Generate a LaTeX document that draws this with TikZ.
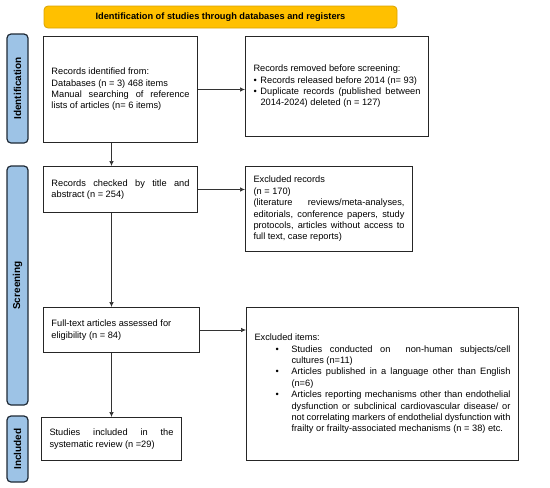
\documentclass[tikz,border=0pt]{standalone}
\usepackage{fontspec}
\setmainfont{Liberation Sans}
\usetikzlibrary{positioning, arrows.meta}
\definecolor{bannerfill}{HTML}{FFC000}
\definecolor{bannerline}{HTML}{D9A300}
\definecolor{phasefill}{HTML}{9DC3E6}
\definecolor{phaseline}{HTML}{1F2A36}
\newcommand{\boxfont}{\fontsize{9.25}{11.4}\selectfont\parindent=0pt\parskip=0pt%
    \hyphenpenalty=10000\exhyphenpenalty=10000\tolerance=10000}
\newcommand{\bul}{\par\noindent\hangindent=7pt\hangafter=1\makebox[7pt][l]{\textbullet}}
\newcommand{\fbul}{\par\noindent\llap{\makebox[16pt][l]{\textbullet}}}
\tikzset{
    box/.style={draw=black!85, line width=1pt, anchor=north west,
        inner xsep=8pt, inner ysep=2pt, align=justify, font=\boxfont}, % preset style for a record box
    phase/.style={draw=phaseline, fill=phasefill, line width=1.2pt, rounded corners=4pt,
        rotate=90, minimum height=21pt, inner sep=0pt,
        font=\fontsize{10}{12}\selectfont\bfseries}, % preset style for a side bar
    banner/.style={draw=bannerline, fill=bannerfill, line width=0.8pt, rounded corners=4pt,
        minimum width=353pt, minimum height=22pt, inner sep=0pt,
        font=\fontsize{9.25}{11.4}\selectfont\bfseries},
    arr/.style={-{Latex[length=5pt, width=4.5pt]}, line width=0.7pt, black!80},
}

\begin{document}
\begin{tikzpicture}[x=1pt, y=-1pt]
        \useasboundingbox (0, 0) rectangle (550, 488);
        \node[banner] (title) at (220.5, 17) {Identification of studies through databases and registers};
        % phases
        \node[phase, minimum width=109pt] (idbar) at (17.5, 88.5) {Identification};
        \node[phase, minimum width=239pt] (scbar) at (17.5, 285.5) {Screening};
        \node[phase, minimum width=66pt] (inbar) at (17.5, 449) {Included};
        % identification
        \node[box, text width=138pt, minimum height=106pt] (ident) at (43, 36)
            {Records identified from:\par
             Databases (n = 3) 468 items\par
             Manual searching of reference\linebreak lists of articles (n= 6 items)\par};
        \node[box, text width=167pt, minimum height=100pt] (removed) at (245, 36)
            {Records removed before screening:
             \bul Records released before 2014 (n= 93)
             \bul Duplicate records (published between\linebreak 2014-2024) deleted (n = 127)\par};
        % screening
        \node[box, text width=138pt, minimum height=46pt] (checked) at (43, 166)
            {Records checked by title and\linebreak abstract (n = 254)\par};
        \node[box, text width=151pt, minimum height=85pt] (excluded) at (245, 166)
            {Excluded records\par
             (n = 170)\par
             (literature reviews/meta-analyses,\linebreak editorials, conference papers, study\linebreak
             protocols, articles without access to\linebreak full text, case reports)\par};
        \node[box, text width=140pt, minimum height=45pt] (fulltext) at (43, 307)
            {Full-text articles assessed for\par eligibility (n = 84)\par};
        \node[box, text width=256pt, minimum height=153pt] (items) at (246, 307)
            {Excluded items:\par\leftskip=37pt
             \fbul Studies conducted on \ non-human subjects/cell\linebreak cultures (n=11)
             \fbul Articles published in a language other than English\linebreak (n=6)
             \fbul Articles reporting mechanisms other than endothelial\linebreak
             dysfunction or subclinical cardiovascular disease/ or\linebreak
             not correlating markers of endothelial dysfunction with\linebreak
             frailty or frailty-associated mechanisms (n = 38) etc.\par};
        % included
        \node[box, text width=124pt, minimum height=43pt] (studies) at (41, 417)
            {Studies included in the\linebreak systematic review (n =29)\par};
        % connectors
        \draw[arr] (ident.east) -- (ident.east -| removed.west);
        \draw[arr] (checked.east) -- (checked.east -| excluded.west);
        \draw[arr] (fulltext.east) -- (fulltext.east -| items.west);
        \draw[arr] (ident.south -| studies.north) -- (checked.north -| studies.north);
        \draw[arr] (checked.south -| studies.north) -- (fulltext.north -| studies.north);
        \draw[arr] (fulltext.south -| studies.north) -- (studies.north);
\end{tikzpicture}
\end{document}
